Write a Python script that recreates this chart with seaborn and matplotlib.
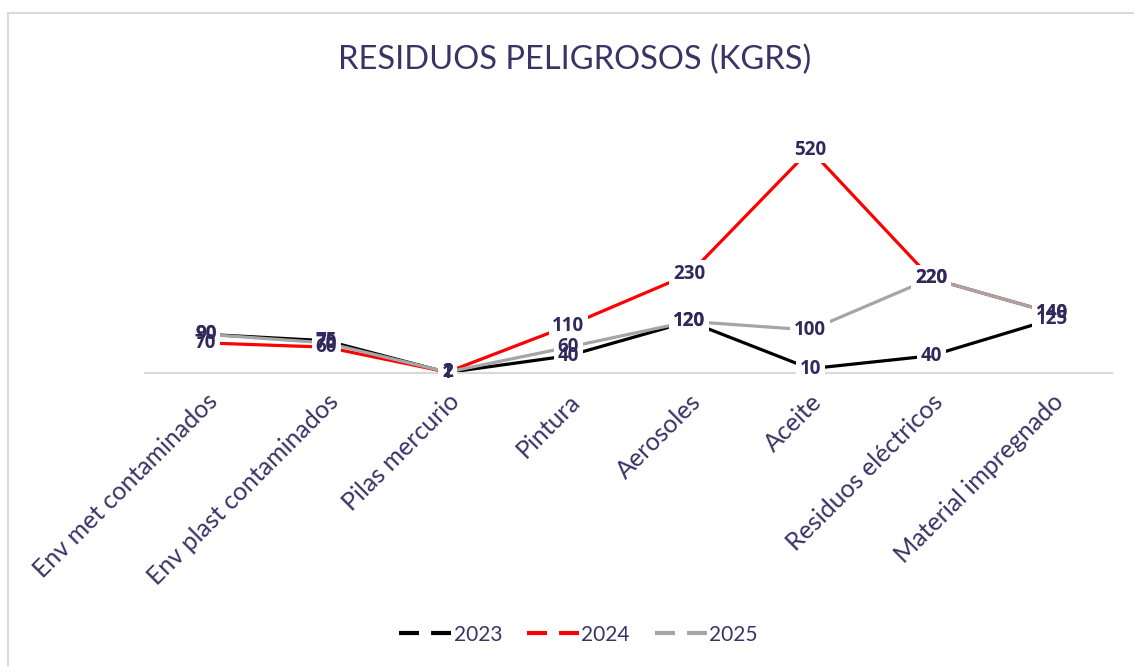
import seaborn as sns
import matplotlib.pyplot as plt
import pandas as pd
from matplotlib.lines import Line2D
from matplotlib.patches import Rectangle

# Chart data
categories = ['Env met contaminados', 'Env plast contaminados', 'Pilas mercurio',
              'Pintura', 'Aerosoles', 'Aceite', 'Residuos eléctricos',
              'Material impregnado']
years = ['2023', '2024', '2025']
v2023 = [90, 75, 1, 40, 120, 10, 40, 125]
v2024 = [70, 60, 2, 110, 230, 520, 220, 140]
v2025 = [90, 70, 2, 60, 120, 100, 220, 140]

colors = {'2023': '#000000', '2024': '#FF0000', '2025': '#A5A5A5'}
text_col = '#3A3366'
label_col = '#2F2A5C'

sns.set_style("white")
plt.rcParams['font.family'] = ['Lato', 'DejaVu Sans']

rows = []
for yr, vals in zip(years, [v2023, v2024, v2025]):
    for i, (c, v) in enumerate(zip(categories, vals)):
        rows.append({'idx': i, 'categoria': c, 'year': yr, 'kg': v})
df = pd.DataFrame(rows)

fig = plt.figure(figsize=(11.34, 6.66), dpi=100)
ax = fig.add_axes([0.128, 0.44, 0.853, 0.387])

sns.lineplot(data=df, x='idx', y='kg', hue='year', palette=colors,
             linewidth=2.3, ax=ax, legend=False, sort=False)

# data labels centred on the points: white boxes first (cut the lines),
# then all texts on top so overlapping labels stay visible
lab_font = dict(ha='center', va='center', fontsize=13.5, fontweight='bold',
                family=['Open Sans', 'DejaVu Sans'])
for yr, vals in zip(years, [v2023, v2024, v2025]):
    for i, v in enumerate(vals):
        ax.text(i, v, str(v), color='white', zorder=4,
                bbox=dict(boxstyle='square,pad=0.2', facecolor='white',
                          edgecolor='none'), **lab_font)
for yr, vals in zip(years, [v2023, v2024, v2025]):
    for i, v in enumerate(vals):
        ax.text(i, v, str(v), color=label_col, zorder=5, **lab_font)

ax.set_xlim(-0.5, len(categories) - 0.5)
ax.set_ylim(0, 600)
ax.set_yticks([])
ax.set_xticks(range(len(categories)))
ax.set_xticklabels(categories, rotation=45, ha='right', rotation_mode='anchor',
                   fontsize=18, color=text_col)
ax.tick_params(axis='x', length=0, pad=12)
ax.set_xlabel('')
ax.set_ylabel('')
for s in ['top', 'right', 'left']:
    ax.spines[s].set_visible(False)
ax.spines['bottom'].set_color('#D9D9D9')
ax.spines['bottom'].set_linewidth(1.5)

fig.text(0.507, 0.91, 'RESIDUOS PELIGROSOS (KGRS)', ha='center', va='center',
         fontsize=23.5, color=text_col)

handles = [Line2D([0], [0], color=colors[y], lw=3, linestyle=(0, (4.8, 2.9)))
           for y in years]
fig.legend(handles, years, loc='center', bbox_to_anchor=(0.51, 0.047), ncol=3,
           frameon=False, fontsize=15, labelcolor=text_col, handlelength=2.5,
           handletextpad=0.1, columnspacing=1.2)

# outer chart border (only left and top edges fall inside the picture)
fig.patches.append(Rectangle((0.007, -0.1), 1.1, 1.08, transform=fig.transFigure,
                             fill=False, edgecolor='#D9D9D9', linewidth=1.5))

fig.savefig('out.png', dpi=100, facecolor='white')
